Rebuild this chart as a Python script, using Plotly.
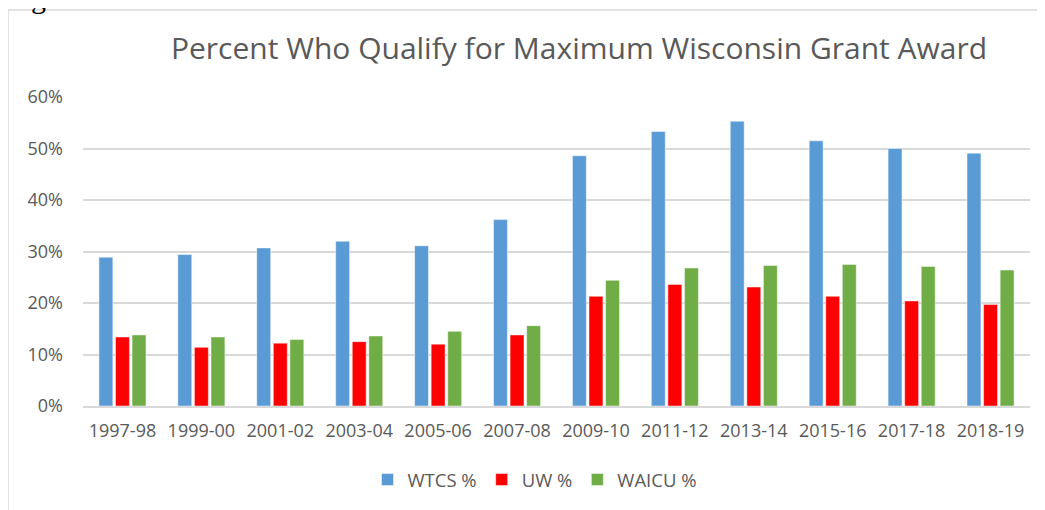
import plotly.graph_objects as go

categories = ["1997-98", "1999-00", "2001-02", "2003-04", "2005-06", "2007-08",
              "2009-10", "2011-12", "2013-14", "2015-16", "2017-18", "2018-19"]
wtcs = [28.9, 29.4, 30.7, 32.0, 31.1, 36.2, 48.6, 53.3, 55.3, 51.5, 50.0, 49.1]
uw = [13.4, 11.4, 12.2, 12.5, 12.0, 13.8, 21.3, 23.6, 23.1, 21.3, 20.4, 19.7]
waicu = [13.8, 13.4, 12.9, 13.6, 14.5, 15.6, 24.4, 26.8, 27.3, 27.5, 27.1, 26.4]
series_names = ["WTCS %", "UW %", "WAICU %"]
colors = ["#5B9BD5", "#FF0000", "#70AD47"]
y_ticks = [0, 10, 20, 30, 40, 50, 60]

fig = go.Figure()
for name, vals, col in zip(series_names, [wtcs, uw, waicu], colors):
    fig.add_trace(go.Bar(
        x=categories, y=[v / 100 for v in vals], name=name,
        marker=dict(color=col, line=dict(color="rgba(255,255,255,0.6)", width=0.8)),
    ))

# page body has an 8px margin; work in window pixels and shift
OFF = 8
W, H = 1045 - OFF, 510 - OFF
L, R, T, B = 83 - OFF, 15, 97 - OFF, 104
pw, ph = W - L - R, H - T - B

def px_to_paper_x(x):
    return (x - OFF - L) / pw

def px_to_paper_y(y):
    return (H - B - (y - OFF)) / ph

font_fam = "Open Sans, Noto Sans, DejaVu Sans, sans-serif"
gray = "#595959"

fig.update_layout(
    width=W, height=H,
    margin=dict(l=L, r=R, t=T, b=B, autoexpand=False),
    paper_bgcolor="white", plot_bgcolor="white",
    barmode="group", bargap=0.37, bargroupgap=0.16,
    font=dict(family=font_fam, color=gray),
    title=dict(text="Percent Who Qualify for Maximum Wisconsin Grant Award",
               x=px_to_paper_x(579), xref="paper", xanchor="center",
               y=1 - (48 - OFF) / H, yanchor="middle", yref="container",
               font=dict(size=30, color=gray, family=font_fam)),
    xaxis=dict(type="category", showgrid=False, showline=True, linecolor="#d9d9d9",
               linewidth=1.5, tickfont=dict(size=18, color=gray), ticks="",
               ticklabelstandoff=8),
    yaxis=dict(range=[0, 0.6], tickvals=[v / 100 for v in y_ticks],
               ticktext=[f"{v}%" for v in y_ticks],
               showgrid=True, gridcolor="#d9d9d9", gridwidth=1.5,
               zeroline=False, showline=False,
               tickfont=dict(size=18, color=gray), ticklabelstandoff=19),
    legend=dict(orientation="h", x=px_to_paper_x(535), xanchor="center",
                y=px_to_paper_y(480), yanchor="middle",
                font=dict(size=18.5, color=gray), itemwidth=30,
                traceorder="normal"),
    shapes=[dict(type="rect", xref="paper", yref="paper",
                 x0=px_to_paper_x(8), x1=px_to_paper_x(1100),
                 y0=px_to_paper_y(560), y1=px_to_paper_y(10),
                 line=dict(color="#d9d9d9", width=1.5), fillcolor="rgba(0,0,0,0)",
                 layer="below")],
    annotations=[dict(text="Figure 2", xref="paper", yref="paper",
                      x=px_to_paper_x(OFF - 4), xanchor="left",
                      y=px_to_paper_y(-2), yanchor="middle",
                      showarrow=False,
                      font=dict(family="Liberation Serif, Times New Roman, serif",
                                size=30, color="black"))],
)

fig.write_html("out.html")
